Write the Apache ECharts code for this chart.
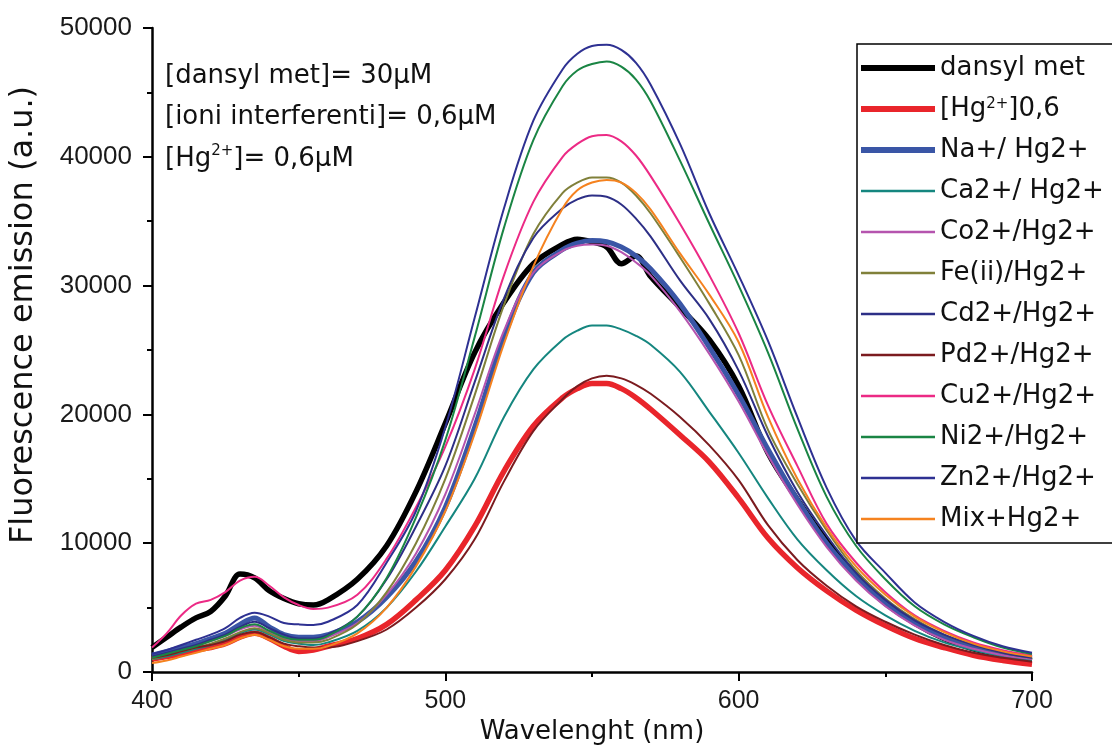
<!DOCTYPE html>
<html>
<head>
<meta charset="utf-8">
<script src="https://cdn.jsdelivr.net/npm/echarts@6/dist/echarts.min.js"></script>
<style>
html,body{margin:0;padding:0;background:#fff;}
#chart{width:1112px;height:751px;}
</style>
</head>
<body>
<div id="chart"></div>
<script>
// Wavelength grid (nm)
const wavelengths = [400,405,410,415,420,425,430,435,440,445,450,455,460,470,480,490,500,510,520,530,540,545,550,555,560,565,570,580,590,600,610,620,630,640,650,660,670,680,690,700];

// Series names
const seriesNames = ['dansyl met','[Hg2+]0,6','Na+/ Hg2+','Ca2+/ Hg2+','Co2+/Hg2+','Fe(ii)/Hg2+','Cd2+/Hg2+','Pd2+/Hg2+','Cu2+/Hg2+','Ni2+/Hg2+','Zn2+/Hg2+','Mix+Hg2+'];

// Fluorescence emission values (a.u.)
const dansylMet = [1900,2700,3500,4200,4700,5900,7600,7300,6300,5700,5300,5200,5600,7200,9800,14000,19300,24800,28700,31700,33200,33600,33400,33000,31700,32300,30700,28300,25800,22200,17000,13400,10200,7500,5400,3800,2600,1800,1300,900];
const hgOnly = [1000,1200,1400,1700,1900,2200,2700,3000,2600,2000,1600,1700,2000,2600,3700,5600,7900,11300,15600,19100,21300,22000,22400,22400,22000,21300,20400,18400,16300,13500,10400,8100,6300,4800,3600,2600,1900,1300,900,600];
const naHg = [1300,1600,1900,2200,2600,3000,3700,4200,3500,2900,2700,2700,2900,3900,5800,8600,12800,19000,26000,31000,32800,33300,33500,33400,33000,32300,31300,28600,25200,21500,17300,13400,10000,7400,5300,3800,2700,1900,1400,1100];
const caHg = [1000,1200,1500,1800,2100,2500,3000,3300,2900,2400,2200,2100,2300,3200,5000,7800,11300,15000,19800,23500,25800,26500,26900,26900,26600,26100,25400,23300,20200,17000,13500,10300,7900,5900,4400,3200,2300,1700,1200,900];
const coHg = [1100,1400,1700,2000,2400,2800,3300,3600,3100,2600,2400,2400,2700,3800,6000,9200,13800,20000,26500,31000,32700,33100,33200,33100,32600,31800,30800,28000,24700,21000,16800,13000,9700,7100,5100,3600,2500,1800,1300,1000];
const feHg = [1000,1300,1600,1900,2200,2600,3100,3400,3000,2500,2300,2300,2500,3700,6200,10000,15000,21500,28500,34000,37200,38000,38400,38400,38000,37000,35600,32200,28600,24600,18800,14600,11000,7900,5700,4100,2900,2100,1500,1100];
const cdHg = [1200,1500,1800,2100,2500,2900,3500,3900,3400,2900,2600,2600,2900,4300,7200,11300,16000,22500,29000,33700,36000,36700,37000,36900,36300,35200,33800,30400,27400,23400,18300,14000,10600,7700,5600,4000,2900,2100,1500,1100];
const pdHg = [1100,1300,1600,1900,2100,2400,2900,3100,2700,2200,2000,1900,1900,2400,3300,5000,7200,10300,14800,18700,21200,22200,22800,23000,22800,22300,21600,19800,17600,14900,11400,8700,6700,5100,3900,2900,2100,1500,1100,800];
const cuHg = [1900,3000,4400,5300,5600,6200,7100,7400,6700,5800,5200,4900,5000,6000,8800,12800,17500,23500,30800,36500,40000,41000,41600,41700,41200,40100,38500,34800,30800,26300,20700,16000,11500,8500,6200,4400,3200,2300,1700,1300];
const niHg = [1100,1400,1700,2000,2400,2800,3400,3700,3200,2700,2500,2500,2800,4300,7300,12000,18000,26000,34500,41300,45500,46700,47200,47400,47000,46000,44300,39700,34800,30000,24800,18900,13600,9800,7200,5100,3700,2700,1900,1400];
const znHg = [1400,1700,2100,2500,2900,3400,4200,4600,4300,3800,3700,3650,3900,5200,8500,12500,19000,27500,36000,42800,46800,48000,48600,48700,48300,47300,45600,41000,35600,30800,25700,19800,14300,10200,7700,5400,3900,2800,2000,1500];
const mixHg = [700,900,1200,1500,1800,2100,2600,2900,2500,2000,1800,1800,2000,3000,5000,8200,12500,18500,25500,31500,36000,37400,38000,38200,38000,37200,35900,32500,29300,25600,19800,15000,11200,8200,6000,4300,3100,2200,1600,1200];

const allValues = [dansylMet,hgOnly,naHg,caHg,coHg,feHg,cdHg,pdHg,cuHg,niHg,znHg,mixHg];

// Annotation lines
const noteLines = ['[dansyl met]= 30\u03bcM','[ioni interferenti]= 0,6\u03bcM','[Hg{sup|2+}]= 0,6\u03bcM'];

const colors = ['#000000','#e9252b','#3a56a6','#15867f','#b554ae','#80803a','#2d2f86','#7b1b1f','#ec2a85','#1a8544','#2e3192','#f5821f'];
const widths = [5.5,5.5,5,2,2,2,2,2,2,2,2,2];

const FONT = '"DejaVu Sans", "Liberation Sans", sans-serif';
const ARIAL = '"Liberation Sans", Arial, sans-serif';

const series = seriesNames.map((name, i) => ({
  name: name,
  type: 'line',
  symbol: 'none',
  smooth: 0.35,
  lineStyle: {color: colors[i], width: widths[i]},
  itemStyle: {color: colors[i]},
  data: wavelengths.map((w, k) => [w, allValues[i][k]]),
  z: 2
}));

const chart = echarts.init(document.getElementById('chart'), null, {renderer: 'canvas'});
chart.setOption({
  animation: false,
  backgroundColor: '#ffffff',
  grid: {left: 152, right: 80, top: 28, bottom: 79, containLabel: false},
  xAxis: {
    type: 'value', min: 400, max: 700, interval: 100,
    name: 'Wavelenght (nm)', nameLocation: 'middle', nameGap: 47,
    nameTextStyle: {fontFamily: FONT, fontSize: 26, color: '#111'},
    axisLine: {show: true, onZero: false, lineStyle: {color: '#000', width: 2.5}},
    axisTick: {show: true, inside: false, length: 9, lineStyle: {color: '#000', width: 2}},
    minorTick: {show: true, splitNumber: 2, length: 5, lineStyle: {color: '#000', width: 2}},
    axisLabel: {margin: 17, fontFamily: '"Liberation Sans Narrow", ' + ARIAL, fontSize: 25, color: '#1a1a1a'},
    splitLine: {show: false}
  },
  yAxis: {
    type: 'value', min: 0, max: 50000, interval: 10000,
    name: 'Fluorescence emission (a.u.)', nameLocation: 'middle', nameGap: 112,
    nameTextStyle: {fontFamily: FONT, fontSize: 32, color: '#111', padding: [0, 0, 0, 70]},
    axisLine: {show: true, onZero: false, lineStyle: {color: '#000', width: 2.5}},
    axisTick: {show: true, inside: false, length: 9, lineStyle: {color: '#000', width: 2}},
    minorTick: {show: true, splitNumber: 2, length: 5, lineStyle: {color: '#000', width: 2}},
    axisLabel: {margin: 20, fontFamily: ARIAL, fontSize: 26, color: '#1a1a1a', formatter: function (v) { return String(v); }},
    splitLine: {show: false}
  },
  legend: {
    orient: 'vertical', left: 857, top: 44,
    padding: [11, 34, 11, 1],
    itemWidth: 74, itemHeight: 14, itemGap: 15,
    borderColor: '#000', borderWidth: 1.5, backgroundColor: '#ffffff',
    data: seriesNames.map((n, i) => ({
      name: n,
      lineStyle: {width: i < 3 ? 6 : 2.5},
      itemStyle: {color: 'rgba(0,0,0,0)', borderWidth: 0, opacity: 0}
    })),
    formatter: function (n) { return n.replace('Hg2+]', 'Hg{sup|2+}]'); },
    textStyle: {
      fontFamily: FONT, fontSize: 26, lineHeight: 24, color: '#111',
      rich: {sup: {fontFamily: FONT, fontSize: 15, lineHeight: 14, verticalAlign: 'top', color: '#111'}}
    }
  },
  graphic: noteLines.map((t, i) => ({
    type: 'text', left: 165, top: 61 + i * 41.5, z: 10,
    style: {
      text: t, fontFamily: FONT, fontSize: 26, lineHeight: 30, fill: '#111',
      rich: {sup: {fontFamily: FONT, fontSize: 15, lineHeight: 16, verticalAlign: 'top', fill: '#111'}}
    }
  })),
  series: series
});
</script>
</body>
</html>
